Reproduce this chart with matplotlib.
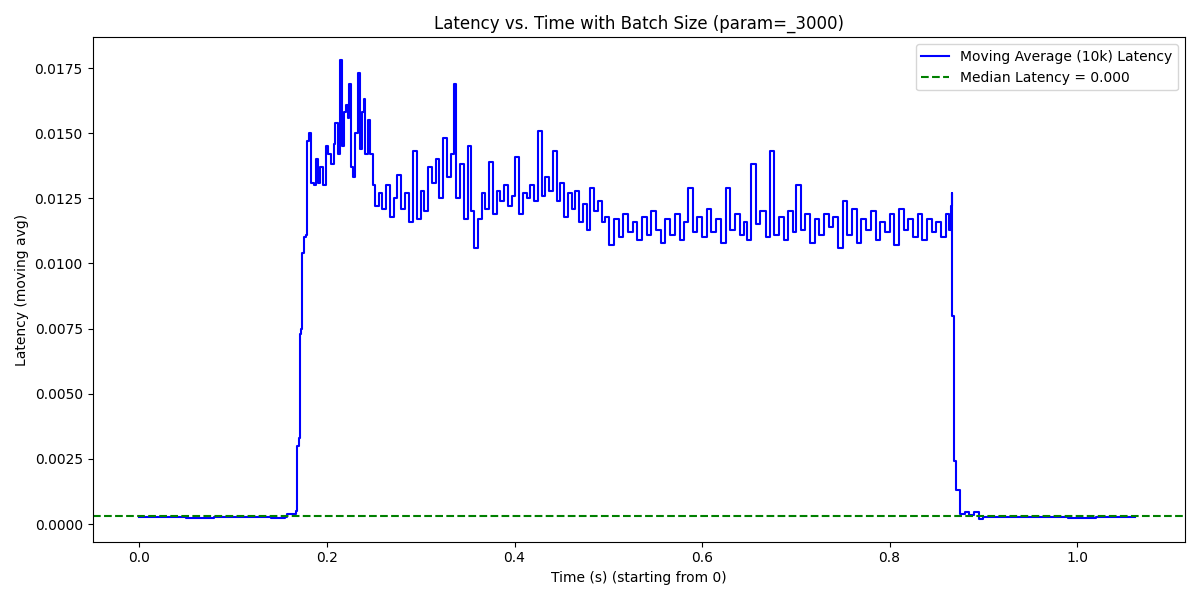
import matplotlib
matplotlib.use("Agg")
import matplotlib.pyplot as plt

# time (s) and moving-average latency
t = [0.0, 0.02, 0.05, 0.08, 0.11, 0.14, 0.155, 0.157, 0.167, 0.168, 0.170, 0.171, 0.172,
     0.173, 0.175, 0.176, 0.178, 0.179, 0.181, 0.183, 0.186, 0.188, 0.190, 0.193, 0.196,
     0.199, 0.201, 0.204, 0.207, 0.209, 0.212, 0.214, 0.216, 0.218, 0.220, 0.222, 0.224,
     0.226, 0.228, 0.230, 0.233, 0.235, 0.237, 0.239, 0.241, 0.244, 0.246, 0.249, 0.251,
     0.255, 0.259, 0.263, 0.267, 0.271, 0.275, 0.279, 0.283, 0.287, 0.292, 0.296, 0.300,
     0.304, 0.308, 0.312, 0.316, 0.320, 0.324, 0.328, 0.332, 0.335, 0.338, 0.342, 0.346,
     0.350, 0.354, 0.357, 0.361, 0.365, 0.369, 0.373, 0.377, 0.381, 0.385, 0.389, 0.393,
     0.397, 0.401, 0.405, 0.409, 0.413, 0.417, 0.421, 0.425, 0.429, 0.433, 0.437, 0.441,
     0.445, 0.449, 0.453, 0.457, 0.461, 0.465, 0.469, 0.473, 0.477, 0.481, 0.485, 0.489,
     0.493, 0.497, 0.501, 0.506, 0.511, 0.516, 0.521, 0.526, 0.531, 0.536, 0.541, 0.546,
     0.551, 0.556, 0.561, 0.566, 0.571, 0.576, 0.581, 0.585, 0.590, 0.595, 0.600, 0.605,
     0.610, 0.615, 0.620, 0.625, 0.630, 0.635, 0.640, 0.645, 0.648, 0.652, 0.657, 0.662,
     0.668, 0.672, 0.677, 0.682, 0.687, 0.692, 0.697, 0.700, 0.705, 0.710, 0.715, 0.720,
     0.725, 0.730, 0.735, 0.740, 0.745, 0.750, 0.755, 0.760, 0.765, 0.770, 0.775, 0.780,
     0.785, 0.790, 0.795, 0.800, 0.805, 0.810, 0.815, 0.820, 0.825, 0.830, 0.835, 0.840,
     0.845, 0.850, 0.855, 0.860, 0.863, 0.865, 0.866, 0.867, 0.869, 0.871, 0.875, 0.880,
     0.885, 0.890, 0.895, 0.900, 0.93, 0.96, 0.99, 1.02, 1.05, 1.062]
lat = [0.00025, 0.00026, 0.00024, 0.00026, 0.00025, 0.00024, 0.00025, 0.0004, 0.0005, 0.0030,
       0.0033, 0.0073, 0.0075, 0.0104, 0.0105, 0.0110, 0.0111, 0.0147, 0.0150, 0.0131,
       0.0130, 0.0140, 0.0131, 0.0137, 0.0130, 0.0145, 0.0142, 0.0138, 0.0146, 0.0154,
       0.0142, 0.0178, 0.0145, 0.0158, 0.0161, 0.0156, 0.0169, 0.0137, 0.0133, 0.0150,
       0.0173, 0.0144, 0.0158, 0.0163, 0.0142, 0.0155, 0.0142, 0.0130, 0.0122, 0.0127,
       0.0121, 0.0130, 0.0118, 0.0125, 0.0134, 0.0121, 0.0127, 0.0116, 0.0143, 0.0117,
       0.0128, 0.0120, 0.0137, 0.0131, 0.0140, 0.0125, 0.0148, 0.0133, 0.0142, 0.0169,
       0.0125, 0.0138, 0.0117, 0.0145, 0.0120, 0.0106, 0.0117, 0.0127, 0.0121, 0.0139,
       0.0119, 0.0128, 0.0124, 0.0130, 0.0122, 0.0126, 0.0141, 0.0119, 0.0127, 0.0125,
       0.0130, 0.0124, 0.0151, 0.0126, 0.0133, 0.0128, 0.0143, 0.0124, 0.0131, 0.0118,
       0.0127, 0.0121, 0.0128, 0.0116, 0.0123, 0.0113, 0.0129, 0.0120, 0.0124, 0.0116,
       0.0118, 0.0107, 0.0117, 0.0110, 0.0119, 0.0112, 0.0116, 0.0109, 0.0118, 0.0111,
       0.0120, 0.0113, 0.0108, 0.0117, 0.0111, 0.0119, 0.0109, 0.0116, 0.0129, 0.0112,
       0.0118, 0.0110, 0.0121, 0.0112, 0.0117, 0.0108, 0.0129, 0.0113, 0.0119, 0.0111,
       0.0116, 0.0109, 0.0138, 0.0115, 0.0120, 0.0110, 0.0143, 0.0111, 0.0118, 0.0109,
       0.0120, 0.0112, 0.0130, 0.0113, 0.0119, 0.0108, 0.0117, 0.0111, 0.0119, 0.0114,
       0.0118, 0.0106, 0.0124, 0.0111, 0.0121, 0.0108, 0.0117, 0.0113, 0.0120, 0.0109,
       0.0116, 0.0112, 0.0119, 0.0107, 0.0121, 0.0113, 0.0117, 0.0110, 0.0119, 0.0109,
       0.0117, 0.0112, 0.0116, 0.0110, 0.0119, 0.0113, 0.0122, 0.0127, 0.0080, 0.0024,
       0.0013, 0.0004, 0.00045, 0.00035, 0.00045, 0.0002, 0.00028, 0.00025, 0.00026,
       0.00024, 0.00025, 0.00026, 0.00025]
median_lat = 0.0003

fig = plt.figure(figsize=(12, 6), dpi=100)
ax = fig.add_subplot(111)
ax.plot(t, lat, color='blue', drawstyle='steps-post', linewidth=1.5,
        label='Moving Average (10k) Latency')
ax.axhline(median_lat, color='green', linestyle='--', linewidth=1.5,
           label='Median Latency = %.3f' % median_lat)
ax.set_xlim(-0.05, 1.115)
ax.set_title('Latency vs. Time with Batch Size (param=_3000)')
ax.set_xlabel('Time (s) (starting from 0)')
ax.set_ylabel('Latency (moving avg)')
ax.legend(loc='upper right')
fig.tight_layout()
fig.savefig('out.png')
